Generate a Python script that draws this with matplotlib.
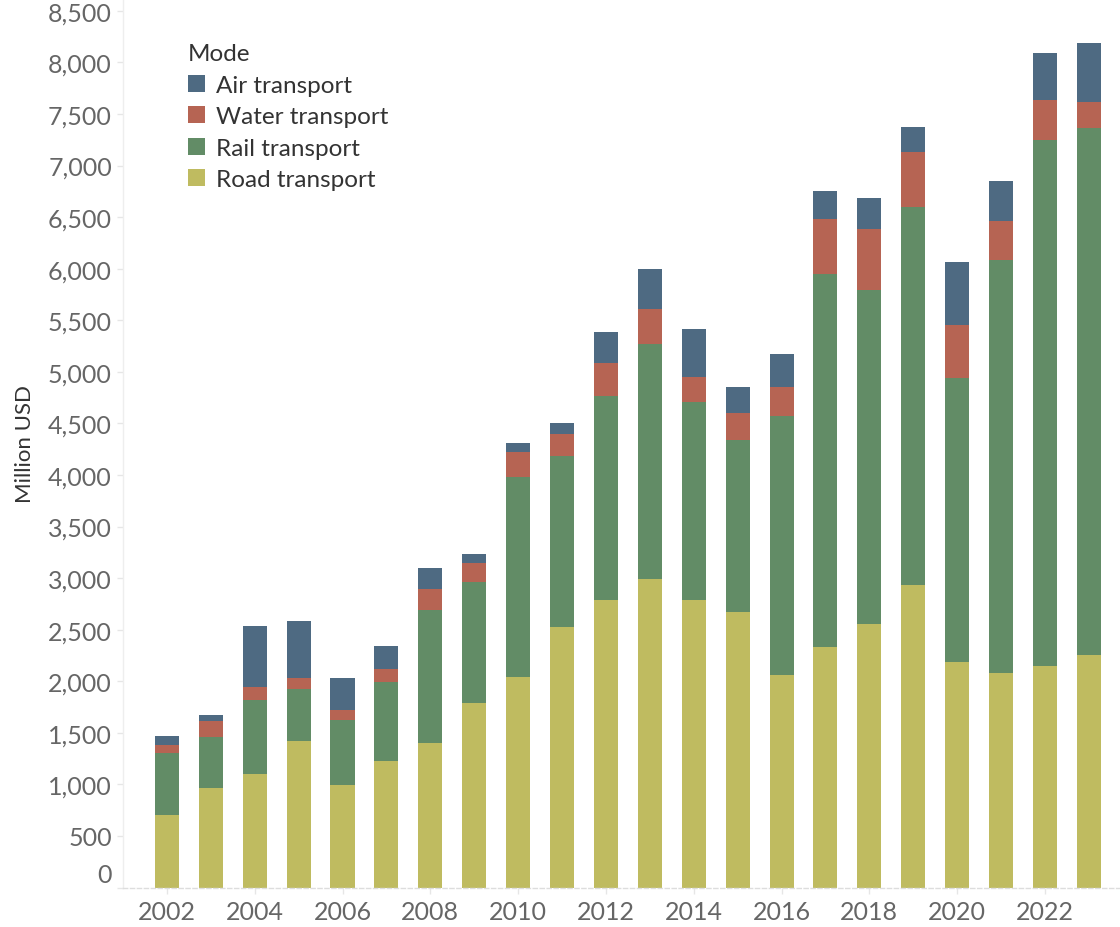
import matplotlib
matplotlib.use("Agg")
import matplotlib.pyplot as plt
import matplotlib.transforms as mtransforms
import numpy as np

years = list(range(2002, 2024))
road = [703, 965, 1100, 1420, 994, 1226, 1401, 1789, 2041, 2526, 2788, 2991,
        2788, 2671, 2060, 2332, 2555, 2933, 2186, 2080, 2148, 2254]
rail = [604, 497, 718, 508, 630, 763, 1286, 1173, 1939, 1655, 1977, 2275,
        1916, 1664, 2508, 3616, 3239, 3665, 2754, 4004, 5100, 5110]
water = [78, 152, 126, 103, 97, 129, 207, 184, 242, 216, 320, 343,
         246, 265, 285, 534, 591, 533, 514, 378, 388, 252]
air = [84, 58, 591, 553, 310, 223, 204, 88, 88, 106, 301, 388,
       465, 253, 319, 271, 300, 243, 611, 388, 455, 572]

series = ["Road transport", "Rail transport", "Water transport", "Air transport"]
colors = {"Air transport": "#4e6a82", "Water transport": "#b66453",
          "Rail transport": "#628c66", "Road transport": "#bfbb60"}
yticks = list(range(0, 8501, 500))
xticks = list(range(2002, 2023, 2))

plt.rcParams['font.family'] = ['Lato', 'DejaVu Sans']

fig = plt.figure(figsize=(11.2, 9.28), dpi=100)
ax = fig.add_axes([123/1120, 39.5/928, 1 - 123/1120, 1 - 39.5/928])

data = {"Road transport": road, "Rail transport": rail,
        "Water transport": water, "Air transport": air}
bottom = np.zeros(len(years))
handles = {}
for s in series:
    vals = np.array(data[s], dtype=float)
    h = ax.bar(years, vals, bottom=bottom, width=0.547, color=colors[s],
               linewidth=0, label=s)
    handles[s] = h
    bottom += vals

ax.set_xlim(2001.0, 2023.71)
ax.set_ylim(0, 8615)
ax.set_yticks(yticks)
ax.set_yticklabels([f"{v:,}" for v in yticks])
ax.set_xticks(xticks)
ax.set_xticklabels([str(v) for v in xticks])

for sp in ["top", "right"]:
    ax.spines[sp].set_visible(False)
ax.spines["left"].set_color("#eeeeee")
ax.spines["left"].set_linewidth(1)
ax.spines["bottom"].set_color("#dddddd")
ax.spines["bottom"].set_linestyle((0, (3, 2)))
ax.spines["bottom"].set_linewidth(1)

ax.tick_params(axis="y", length=4, width=1, color="#e6e6e6", pad=4,
               labelsize=18, labelcolor="#666666")
ax.tick_params(axis="x", length=4, width=1, color="#e6e6e6", pad=5,
               labelsize=18, labelcolor="#666666")

# shift the "0" label upward as in the reference
offset = mtransforms.ScaledTranslation(0, 15/100, fig.dpi_scale_trans)
lab0 = ax.get_yticklabels()[0]
lab0.set_transform(lab0.get_transform() + offset)

ax.set_ylabel("Million USD", fontsize=16, color="#333333")
ax.yaxis.set_label_coords(-0.088, 0.5)

order = ["Air transport", "Water transport", "Rail transport", "Road transport"]
leg = ax.legend([handles[s] for s in order], order, title="Mode",
                loc="upper left", bbox_to_anchor=(0.055, 0.961),
                frameon=False, fontsize=17.5, title_fontsize=17.5,
                handlelength=0.7, handleheight=0.7, handletextpad=0.45,
                labelspacing=0.43, borderaxespad=0)
leg._legend_box.align = "left"
for t in leg.get_texts():
    t.set_color("#333333")
leg.get_title().set_color("#333333")

fig.savefig("out.png", dpi=100)
